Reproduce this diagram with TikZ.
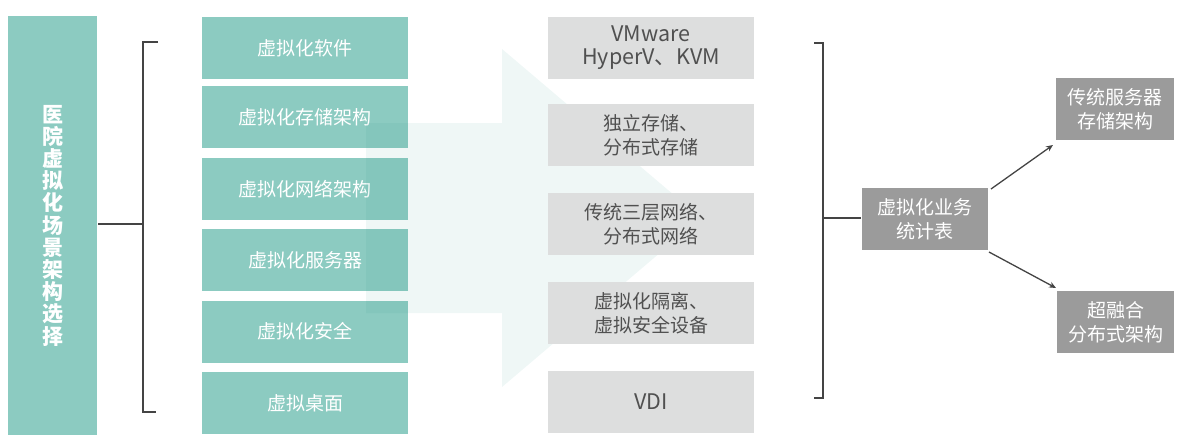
\documentclass[tikz,border=0pt]{standalone}
\usepackage{fontspec}
\setmainfont{Noto Sans CJK SC}
\usepackage{tikz}
\usetikzlibrary{calc,arrows.meta}
\definecolor{boxGreen}{RGB}{140,203,193}
\definecolor{boxGray}{RGB}{221,222,222}
\definecolor{boxDark}{RGB}{155,155,155}
\definecolor{lineGray}{RGB}{68,68,68}
\definecolor{textGray}{RGB}{80,80,80}
\definecolor{arrowTeal}{RGB}{48,150,140}
\tikzset{
  basebox/.style={inner sep=0pt, align=center, minimum height=62pt, font=\fontsize{19}{24}\selectfont},
  greenbox/.style={basebox, fill=boxGreen, text=white, minimum width=206pt},
  graybox/.style={basebox, fill=boxGray, text=textGray, minimum width=206pt},
  latin/.style={font=\fontsize{21.5}{22.5}\selectfont},
  darkbox/.style={basebox, fill=boxDark, text=white},
  titlebox/.style={fill=boxGreen, text=white, inner sep=0pt, align=center, minimum width=89pt, minimum height=419pt, font=\bfseries\fontsize{21}{22.2}\selectfont}
}
\begin{document}
\begin{tikzpicture}[x=1pt, y=-1pt, line width=2pt]
    \useasboundingbox (0,0) rectangle (1203,447);
    \node[titlebox] (T) at (52.5,225.5) {医\\院\\虚\\拟\\化\\场\\景\\架\\构\\选\\择};
    \node[greenbox] (G1) at (305,48) {虚拟化软件};
    \node[greenbox] (G2) at (305,117) {虚拟化存储架构};
    \node[greenbox] (G3) at (305,189) {虚拟化网络架构};
    \node[greenbox] (G4) at (305,260) {虚拟化服务器};
    \node[greenbox] (G5) at (305,331.5) {虚拟化安全};
    \node[greenbox] (G6) at (305,403) {虚拟桌面};
    \fill[arrowTeal, opacity=0.08] (366,123) -- (502,123) -- (502,49) -- (701,218)
        -- (502,387) -- (502,313) -- (366,313) -- cycle;
    \node[graybox, latin] (S1) at (651,47.5) {VMware\\HyperV、KVM};
    \node[graybox] (S2) at (651,135) {独立存储、\\分布式存储};
    \node[graybox] (S3) at (651,224) {传统三层网络、\\分布式网络};
    \node[graybox] (S4) at (651,313) {虚拟化隔离、\\虚拟安全设备};
    \node[graybox, latin] (S5) at (651,402) {VDI};
    \node[darkbox, minimum width=126pt] (M) at (925,219) {虚拟化业务\\统计表};
    \node[darkbox, minimum width=118pt] (R1) at (1115,109) {传统服务器\\存储架构};
    \node[darkbox, minimum width=117pt] (R2) at (1115.5,322) {超融合\\分布式架构};
    \coordinate (LB) at (143,224);
    \coordinate (RB) at (823,218);
    \draw[lineGray] (T.east |- LB) -- (LB);
    \draw[lineGray] (158,42) -- (143,42) -- (143,412) -- (156,412);
    \draw[lineGray] (814,43) -- (823,43) -- (823,398) -- (814,398);
    \draw[lineGray] (RB) -- (M.west |- RB);
    \draw[lineGray, line width=1.3pt, -{Stealth[length=7pt,width=6pt]}]
        ($(M.north east)+(2,2)$) -- ($(R1.south west)+(-2,4)$);
    \draw[lineGray, line width=1.3pt, -{Stealth[length=7pt,width=6pt]}]
        ($(M.south east)+(0,1)$) -- ($(R2.north west)+(0,-2)$);
\end{tikzpicture}
\end{document}
